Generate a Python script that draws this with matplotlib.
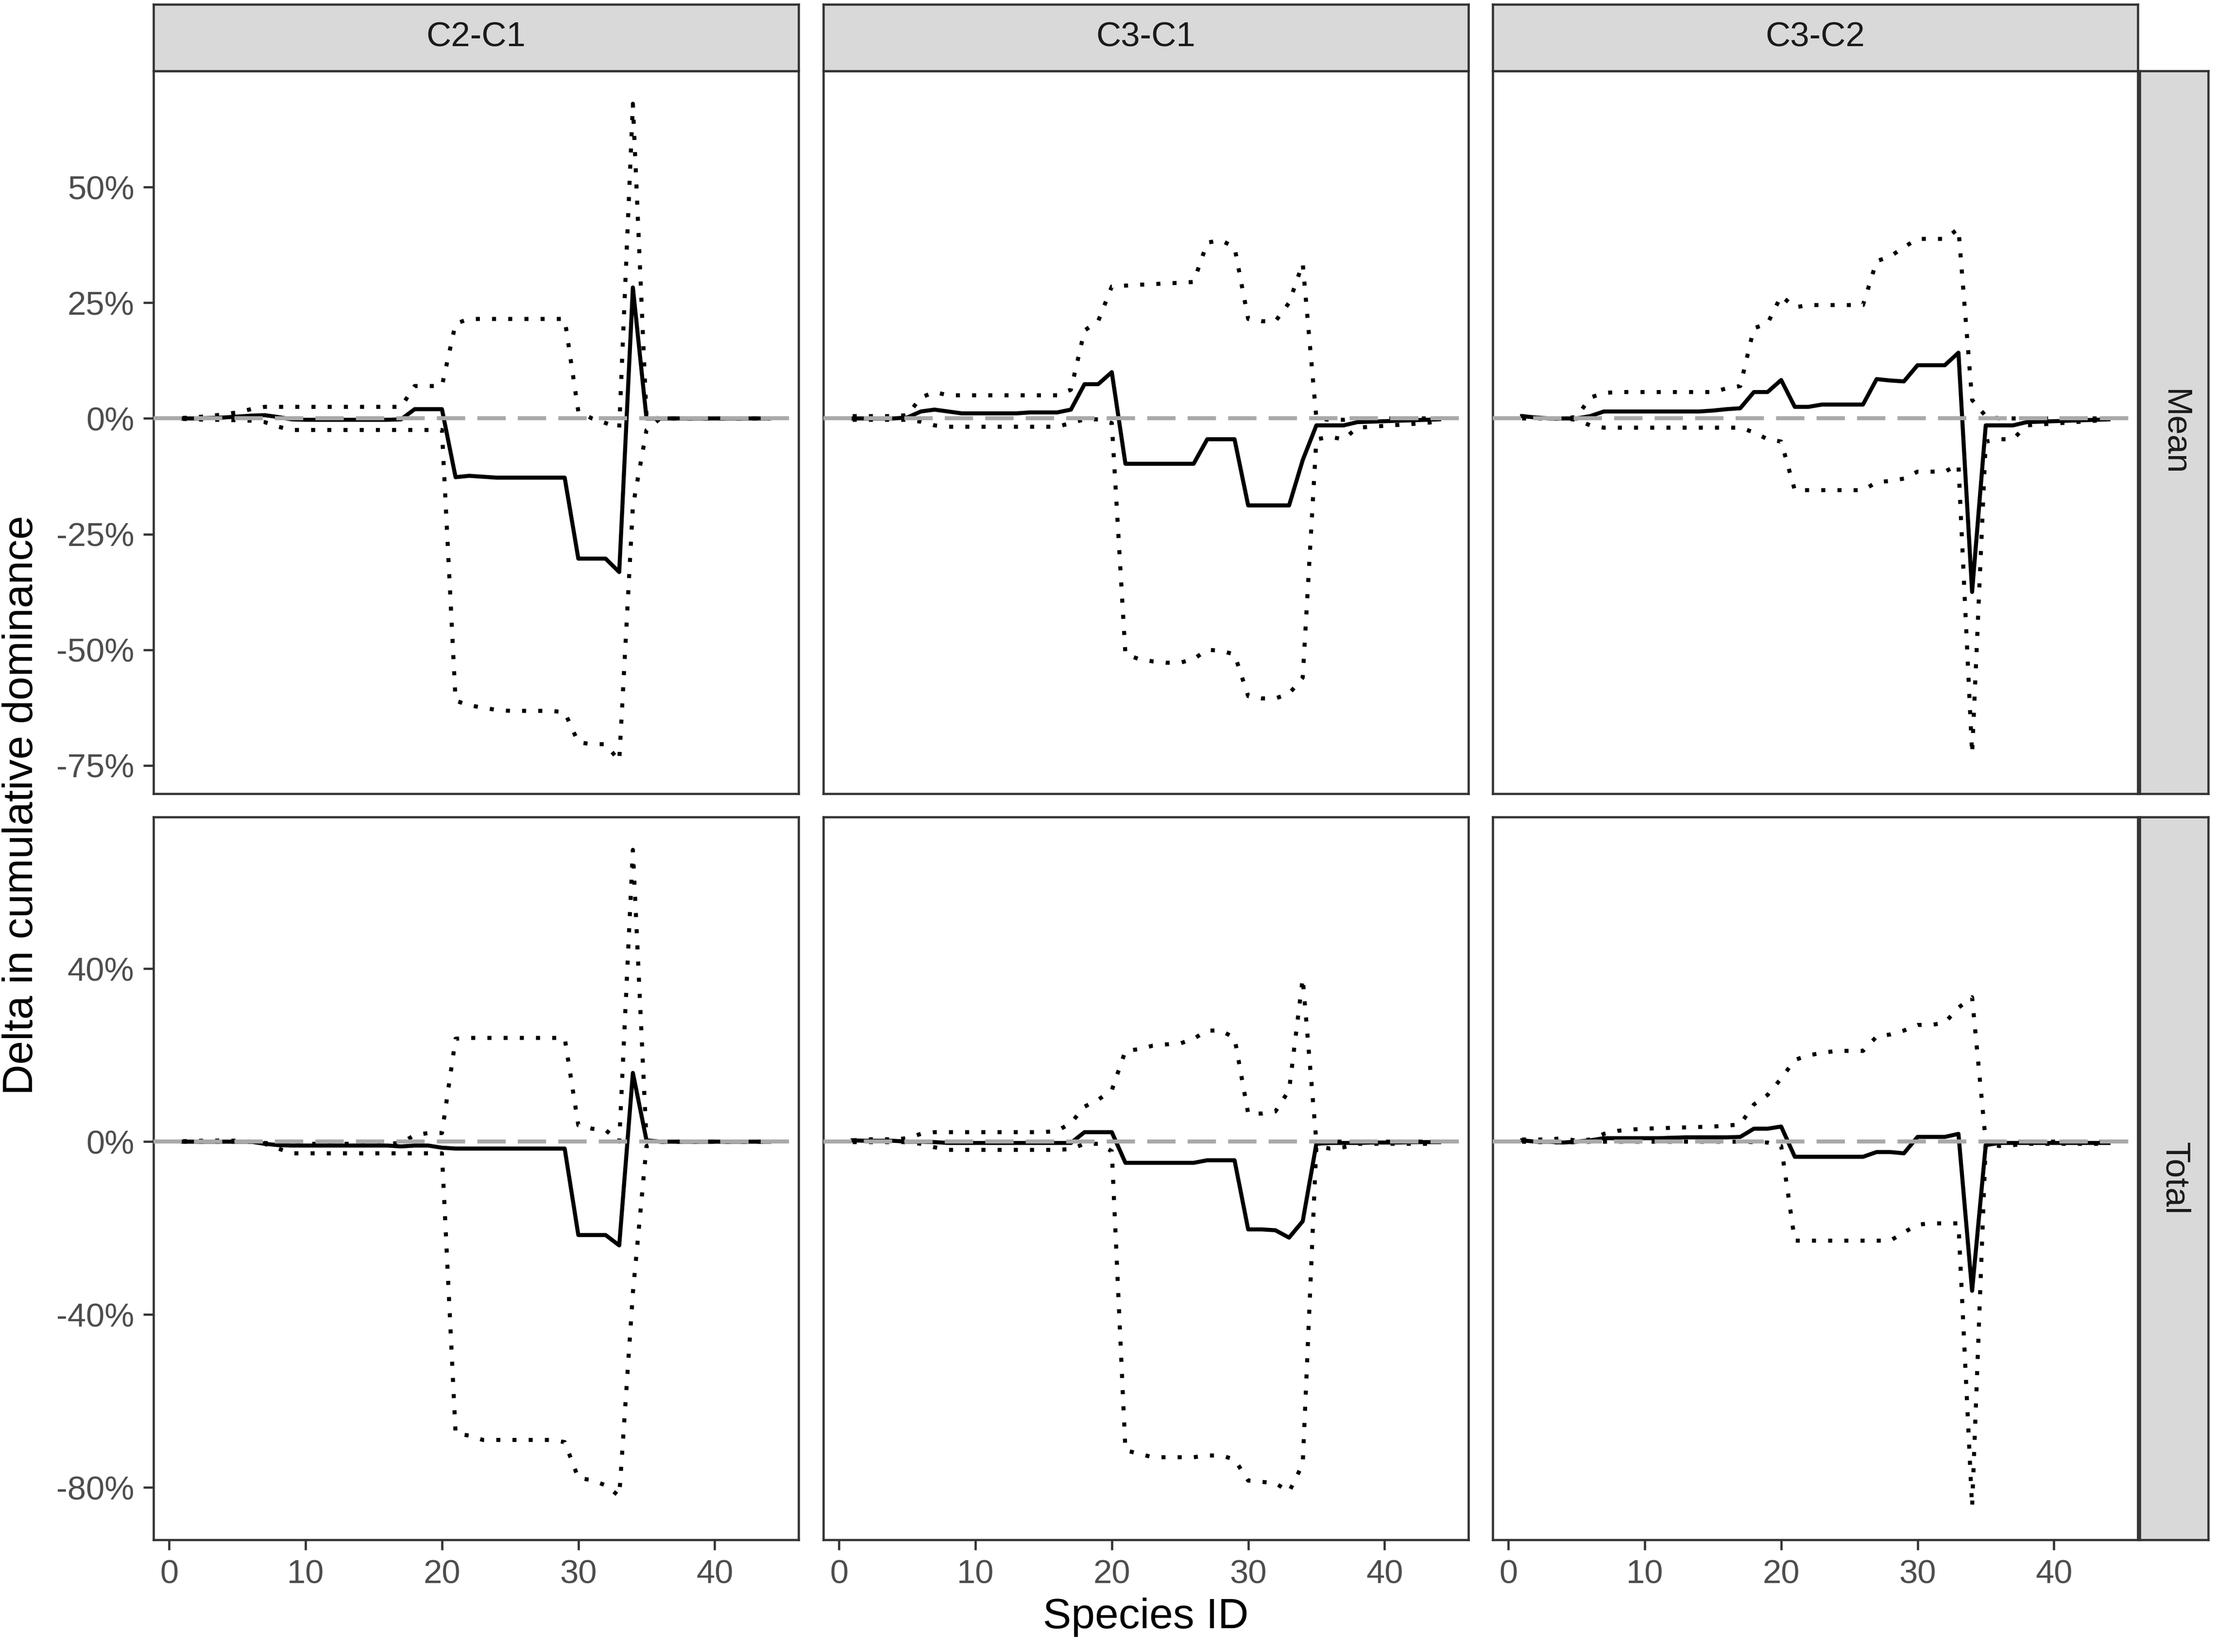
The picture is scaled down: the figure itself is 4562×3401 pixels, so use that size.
import numpy as np
import matplotlib.pyplot as plt

plt.rcParams['font.family'] = ['Liberation Sans', 'DejaVu Sans']

species = np.arange(1, 45)
comparisons = ['C2-C1', 'C3-C1', 'C3-C2']
stats = ['Mean', 'Total']
x_ticks = [0, 10, 20, 30, 40]
mean_ticks = [-75, -50, -25, 0, 25, 50]
total_ticks = [-80, -40, 0, 40]

# ---- Mean row (delta in %) ----
c21_mean_est = [0, 0, 0.1, 0.2, 0.4, 0.6, 0.7, 0.3, -0.2, -0.3,
                -0.3, -0.3, -0.3, -0.3, -0.3, -0.3, -0.2, 2.0, 2.0, 2.0,
                -12.7, -12.4, -12.6, -12.8, -12.8, -12.8, -12.8, -12.8, -12.8, -30.3,
                -30.3, -30.3, -33.2, 28.3, 0, 0, 0, 0, 0, 0,
                0, 0, 0, 0]
c21_mean_hi = [0.1, 0.3, 0.5, 0.9, 1.3, 2.0, 2.5, 2.5, 2.5, 2.5,
               2.5, 2.5, 2.5, 2.5, 2.5, 2.5, 2.5, 7.0, 7.0, 7.0,
               20.5, 21.5, 21.5, 21.5, 21.5, 21.5, 21.5, 21.5, 21.5, 1.5,
               0.0, -1.0, -2.0, 68.0, 0.3, 0, 0, 0, 0, 0,
               0, 0, 0, 0]
c21_mean_lo = [-0.1, -0.2, -0.3, -0.3, -0.4, -0.5, -0.8, -1.8, -2.5, -2.5,
               -2.5, -2.5, -2.5, -2.5, -2.5, -2.5, -2.5, -2.5, -2.5, -2.5,
               -61.0, -62.0, -62.5, -63.0, -63.2, -63.2, -63.2, -63.2, -63.5, -70.0,
               -70.4, -70.4, -74.0, -19.0, -2.5, 0, 0, 0, 0, 0,
               0, 0, 0, 0]

c31_mean_est = [0, 0, 0, 0, 0.2, 1.5, 1.9, 1.5, 1.1, 1.1,
                1.1, 1.1, 1.1, 1.3, 1.3, 1.3, 1.9, 7.4, 7.4, 10.0,
                -9.8, -9.8, -9.8, -9.8, -9.8, -9.8, -4.5, -4.5, -4.5, -18.8,
                -18.8, -18.8, -18.8, -9.0, -1.5, -1.5, -1.5, -0.8, -0.7, -0.6,
                -0.5, -0.4, -0.3, -0.2]
c31_mean_hi = [0.5, 0.5, 0.5, 0.5, 0.7, 4.5, 5.7, 5.0, 5.0, 5.0,
               5.0, 5.0, 5.0, 5.0, 5.0, 5.0, 6.2, 19.0, 21.0, 28.5,
               28.7, 28.9, 29.0, 29.2, 29.3, 29.5, 38.0, 38.5, 37.0, 21.5,
               21.0, 21.0, 25.0, 33.5, 0.0, -0.3, -0.3, 0, 0, 0,
               0, 0, 0, 0]
c31_mean_lo = [-0.3, -0.3, -0.3, -0.3, -0.3, -0.7, -1.5, -1.8, -1.8, -1.8,
               -1.8, -1.8, -1.8, -1.8, -1.8, -1.8, -1.0, -0.2, -0.2, -1.0,
               -51.0, -52.0, -52.5, -52.8, -52.8, -52.0, -50.0, -50.2, -51.0, -60.0,
               -60.5, -60.5, -59.5, -56.0, -4.5, -4.0, -4.5, -2.0, -1.8, -1.6,
               -1.4, -1.2, -1.0, -0.6]

c32_mean_est = [0.5, 0.2, 0, 0, 0, 0.5, 1.5, 1.5, 1.5, 1.5,
                1.5, 1.5, 1.5, 1.5, 1.7, 2.0, 2.2, 5.7, 5.7, 8.3,
                2.5, 2.5, 3.0, 3.0, 3.0, 3.0, 8.5, 8.2, 8.0, 11.5,
                11.5, 11.5, 14.2, -37.5, -1.5, -1.5, -1.5, -0.8, -0.7, -0.6,
                -0.5, -0.4, -0.3, -0.2]
c32_mean_hi = [0.5, 0.2, 0, 0, 0.3, 4.5, 5.5, 5.7, 5.7, 5.7,
               5.7, 5.7, 5.7, 5.7, 5.7, 6.5, 7.0, 19.5, 20.5, 26.5,
               24.0, 24.5, 24.5, 24.5, 24.5, 24.5, 34.0, 35.0, 37.0, 38.8,
               38.8, 38.8, 41.0, 4.0, 0.5, 0, 0, 0, 0, 0,
               0, 0, 0, 0]
c32_mean_lo = [0, 0, 0, 0, -0.3, -1.5, -2.0, -2.0, -2.0, -2.0,
               -2.0, -2.0, -2.0, -2.0, -2.0, -2.0, -2.0, -3.0, -4.5, -5.0,
               -15.5, -15.5, -15.5, -15.5, -15.5, -15.5, -13.8, -13.5, -13.0, -11.5,
               -11.5, -11.5, -10.0, -72.5, -5.0, -4.5, -4.5, -1.5, -1.3, -1.1,
               -0.9, -0.7, -0.5, -0.3]

# ---- Total row (delta in %) ----
c21_total_est = [0, 0, 0, 0, 0, 0, -0.5, -0.8, -0.9, -0.9,
                 -0.9, -0.9, -0.9, -0.9, -0.9, -0.9, -1.1, -0.9, -0.9, -1.4,
                 -1.6, -1.6, -1.6, -1.6, -1.6, -1.6, -1.6, -1.6, -1.6, -21.6,
                 -21.6, -21.6, -24.0, 15.9, 0.3, 0, 0, 0, 0, 0,
                 0, 0, 0, 0]
c21_total_hi = [0.1, 0.2, 0.2, 0.3, 0.2, 0, -0.3, -0.5, -0.5, -0.5,
                -0.5, -0.5, -0.5, -0.5, -0.5, -0.5, -0.3, 1.5, 2.0, 2.0,
                23.8, 24.0, 24.0, 24.0, 24.0, 24.0, 24.0, 24.0, 24.0, 3.8,
                3.0, 2.7, 0.0, 67.5, 0.3, 0, 0, 0, 0, 0,
                0, 0, 0, 0]
c21_total_lo = [0, 0, 0, 0, 0, 0, -0.5, -1.6, -2.7, -2.7,
                -2.7, -2.7, -2.7, -2.7, -2.7, -2.7, -2.7, -2.7, -2.7, -2.7,
                -67.5, -68.0, -69.0, -69.0, -69.0, -69.0, -69.0, -69.0, -69.5, -77.8,
                -78.3, -79.5, -82.0, -35.0, -1.0, 0, 0, 0, 0, 0,
                0, 0, 0, 0]

c31_total_est = [0.3, 0.2, 0.2, 0.2, 0, 0, -0.1, -0.3, -0.3, -0.3,
                 -0.3, -0.3, -0.3, -0.3, -0.3, -0.3, -0.3, 2.2, 2.2, 2.2,
                 -4.9, -4.9, -4.9, -4.9, -4.9, -4.9, -4.3, -4.3, -4.3, -20.3,
                 -20.3, -20.5, -22.2, -18.4, -0.5, -0.3, -0.3, -0.3, -0.2, -0.2,
                 -0.2, -0.1, -0.1, -0.1]
c31_total_hi = [0.3, 0.5, 0.6, 0.5, 0.8, 1.8, 2.2, 2.2, 2.2, 2.2,
                2.2, 2.2, 2.2, 2.2, 2.2, 2.5, 4.3, 8.1, 9.7, 11.9,
                21.0, 21.4, 22.2, 22.5, 22.7, 23.8, 25.7, 25.7, 24.0, 6.5,
                6.5, 7.0, 11.9, 37.8, 0.0, 0, 0, 0, 0, 0,
                0, 0, 0, 0]
c31_total_lo = [-0.1, -0.1, -0.1, -0.1, -0.1, -0.5, -1.3, -1.9, -1.9, -1.9,
                -1.9, -1.9, -1.9, -1.9, -1.9, -1.9, -1.7, -0.5, -0.5, -2.2,
                -71.4, -72.2, -73.0, -73.0, -73.0, -73.0, -72.6, -72.6, -73.5, -78.4,
                -78.7, -79.0, -81.0, -74.6, -1.0, -1.6, -1.3, -0.5, -0.5, -0.5,
                -0.5, -0.5, -0.5, -0.5]

c32_total_est = [0.3, 0, 0, -0.2, 0, 0.3, 0.8, 0.8, 0.8, 0.8,
                 0.8, 0.9, 1.0, 1.0, 1.0, 1.0, 1.1, 3.0, 3.0, 3.5,
                 -3.5, -3.5, -3.5, -3.5, -3.5, -3.5, -2.4, -2.4, -2.7, 1.1,
                 1.1, 1.1, 1.8, -34.5, -0.8, -0.3, -0.3, -0.3, -0.3, -0.3,
                 -0.3, -0.3, -0.3, -0.3]
c32_total_hi = [0.5, 0.5, 0.5, 0.8, 0.2, 0.5, 1.8, 2.5, 2.8, 3.0,
                3.1, 3.2, 3.3, 3.4, 3.5, 3.7, 4.0, 8.6, 10.8, 14.6,
                18.9, 20.0, 20.5, 21.0, 21.0, 21.0, 24.3, 24.8, 25.7, 27.0,
                27.0, 27.5, 31.0, 33.4, 0.0, 0, 0, 0, 0, 0,
                0, 0, 0, 0]
c32_total_lo = [0, -0.1, -0.1, -0.2, -0.1, 0, 0, 0, 0, 0,
                0, 0, 0, 0, 0, 0, 0, -0.1, -0.2, -1.0,
                -22.9, -22.9, -22.9, -22.9, -22.9, -22.9, -22.9, -22.9, -21.0, -19.2,
                -18.9, -18.9, -18.9, -84.5, -0.5, -1.0, -0.8, -0.5, -0.5, -0.5,
                -0.5, -0.5, -0.5, -0.5]

panels = {
    ('Mean', 'C2-C1'): (c21_mean_est, c21_mean_lo, c21_mean_hi),
    ('Mean', 'C3-C1'): (c31_mean_est, c31_mean_lo, c31_mean_hi),
    ('Mean', 'C3-C2'): (c32_mean_est, c32_mean_lo, c32_mean_hi),
    ('Total', 'C2-C1'): (c21_total_est, c21_total_lo, c21_total_hi),
    ('Total', 'C3-C1'): (c31_total_est, c31_total_lo, c31_total_hi),
    ('Total', 'C3-C2'): (c32_total_est, c32_total_lo, c32_total_hi),
}
row_ticks = {'Mean': mean_ticks, 'Total': total_ticks}

# layout in pixels of the 4562x3401 output
W, H = 4562, 3401
col_left = [316, 1695, 3073]
col_w = 1328
row_top = [146, 1682]
row_h = 1488
strip_top = 9
strip_right = (4405, 4546)

dark = '#333333'
strip_fill = '#D9D9D9'
lw_line = 2.0

fig = plt.figure(figsize=(W / 300, H / 300), dpi=300)


def box(x0, y0, x1, y1):
    return [x0 / W, 1 - y1 / H, (x1 - x0) / W, (y1 - y0) / H]


def strip(rect, label, rotation=0):
    sa = fig.add_axes(rect)
    sa.set_facecolor(strip_fill)
    sa.set_xticks([])
    sa.set_yticks([])
    for s in sa.spines.values():
        s.set_color(dark)
        s.set_linewidth(1.1)
    sa.text(0.5, 0.5, label, transform=sa.transAxes, ha='center', va='center',
            fontsize=17, color='#1A1A1A', rotation=rotation)


# shared x range with ggplot-style 5% expansion
xr = species.max() - species.min()
xlim = (species.min() - 0.05 * xr, species.max() + 0.05 * xr)

for r, stat in enumerate(stats):
    vals = np.concatenate([np.concatenate(panels[(stat, c)]) for c in comparisons])
    pad = 0.05 * (vals.max() - vals.min())
    ylim = (vals.min() - pad, vals.max() + pad)
    for c, comp in enumerate(comparisons):
        est, lo, hi = panels[(stat, comp)]
        ax = fig.add_axes(box(col_left[c], row_top[r], col_left[c] + col_w, row_top[r] + row_h))
        ax.plot(species, hi, color='black', lw=lw_line, linestyle=(0, (1, 3)), dash_capstyle='butt')
        ax.plot(species, lo, color='black', lw=lw_line, linestyle=(0, (1, 3)), dash_capstyle='butt')
        ax.plot(species, est, color='black', lw=lw_line, solid_joinstyle='round')
        ax.axhline(0, color='#A9A9A9', lw=lw_line, linestyle=(0, (7, 3)), zorder=5)
        ax.set_xlim(xlim)
        ax.set_ylim(ylim)
        ax.set_xticks(x_ticks)
        ax.set_yticks(row_ticks[stat])
        ax.set_yticklabels([f'{v}%' for v in row_ticks[stat]])
        ax.tick_params(length=5, width=1.1, color=dark, labelcolor='#4D4D4D',
                       labelsize=16.5, pad=4.5)
        if r == 0:
            ax.tick_params(axis='x', bottom=False, labelbottom=False)
        if c > 0:
            ax.tick_params(axis='y', left=False, labelleft=False)
        for s in ax.spines.values():
            s.set_color(dark)
            s.set_linewidth(1.1)
        if r == 0:
            strip(box(col_left[c], strip_top, col_left[c] + col_w, row_top[0]), comp)
    strip(box(strip_right[0], row_top[r], strip_right[1], row_top[r] + row_h), stat, rotation=-90)

fig.text((col_left[0] + col_left[2] + col_w) / 2 / W, 1 - 3352 / H, 'Species ID',
         ha='center', va='baseline', fontsize=21)
fig.text(45 / W, 1 - (row_top[0] + row_top[1] + row_h) / 2 / H,
         'Delta in cumulative dominance', ha='center', va='center',
         rotation=90, fontsize=21)

fig.savefig('out.png', dpi=300, facecolor='white')
